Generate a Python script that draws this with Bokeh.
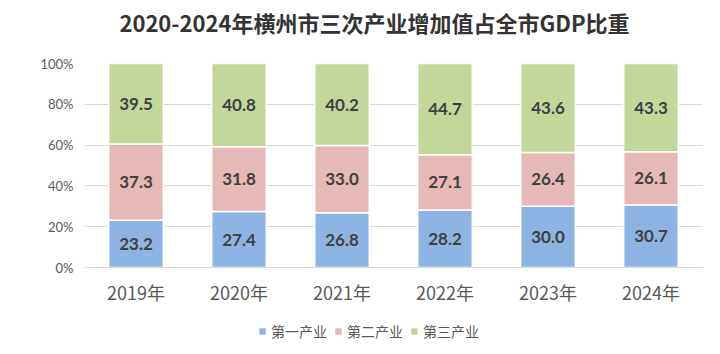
from bokeh.plotting import figure
from bokeh.layouts import column
from bokeh.models import FactorRange, Legend, LegendItem, NumeralTickFormatter, ColumnDataSource
from bokeh.core.properties import value
from bokeh.embed import file_html
from bokeh.resources import INLINE

years = ["2019年", "2020年", "2021年", "2022年", "2023年", "2024年"]
primary = [23.2, 27.4, 26.8, 28.2, 30.0, 30.7]
secondary = [37.3, 31.8, 33.0, 27.1, 26.4, 26.1]
tertiary = [39.5, 40.8, 40.2, 44.7, 43.6, 43.3]
series_names = ["第一产业", "第二产业", "第三产业"]
colors = ["#8DB4E2", "#E6B8B7", "#C4D79B"]
title_text = "2020-2024年横州市三次产业增加值占全市GDP比重"

totals = [a + b + c for a, b, c in zip(primary, secondary, tertiary)]
s1 = [a / t for a, t in zip(primary, totals)]
s2 = [b / t for b, t in zip(secondary, totals)]
s3 = [c / t for c, t in zip(tertiary, totals)]

src = ColumnDataSource(dict(
    x=years, s1=s1, s2=s2, s3=s3,
    l1=[f"{v:.1f}" for v in primary],
    l2=[f"{v:.1f}" for v in secondary],
    l3=[f"{v:.1f}" for v in tertiary],
    y1=[a / 2 for a in s1],
    y2=[a + b / 2 for a, b in zip(s1, s2)],
    y3=[a + b + c / 2 for a, b, c in zip(s1, s2, s3)],
))

def strip(h, x_range):
    f = figure(width=720, height=h, x_range=x_range, y_range=(h, 0),
               output_backend="svg", toolbar_location=None,
               min_border_left=84, min_border_right=18, min_border_top=0, min_border_bottom=0)
    f.axis.visible = False
    f.grid.visible = False
    f.outline_line_color = None
    return f

# title strip
t = strip(45, (84, 702))
t.text(x=[374], y=[21], text=[title_text], text_align="center", text_baseline="middle",
       text_font=value("Noto Sans CJK SC"), text_font_size="22px", text_font_style="bold",
       text_color="#333333")

p = figure(frame_width=618, frame_height=204, x_range=FactorRange(*years), y_range=(0, 1),
           output_backend="svg", toolbar_location=None,
           min_border_left=84, min_border_right=18, min_border_top=18, min_border_bottom=45)
p.outline_line_color = None
p.background_fill_color = "white"

r = p.vbar_stack(["s1", "s2", "s3"], x="x", width=0.53, source=src,
                 color=colors, line_color="white", line_width=1.5)

for lab, yy in (("l1", "y1"), ("l2", "y2"), ("l3", "y3")):
    p.text(x="x", y=yy, text=lab, source=src, text_align="center", text_baseline="middle",
           text_font=value("Lato"), text_font_size="17px", text_font_style="bold",
           text_color="#404040")

p.yaxis.ticker = [0, 0.2, 0.4, 0.6, 0.8, 1.0]
p.yaxis.formatter = NumeralTickFormatter(format="0%")
p.yaxis.axis_line_color = None
p.yaxis.major_tick_line_color = None
p.yaxis.minor_tick_line_color = None
p.yaxis.major_tick_out = 0
p.yaxis.major_label_text_font = "Lato"
p.yaxis.major_label_text_font_size = "13px"
p.yaxis.major_label_text_color = "#595959"
p.yaxis.major_label_standoff = 11

p.xaxis.axis_line_color = "#D9D9D9"
p.xaxis.major_tick_line_color = None
p.xaxis.minor_tick_line_color = None
p.xaxis.major_tick_out = 0
p.xaxis.major_label_text_font = "Noto Sans CJK SC"
p.xaxis.major_label_text_font_size = "18px"
p.xaxis.major_label_text_color = "#595959"
p.xaxis.major_label_standoff = 11

p.xgrid.grid_line_color = None
p.ygrid.grid_line_color = "#D9D9D9"

# legend strip: same stacked series with zero width, kept out of view; only the legend shows
lf = strip(42, FactorRange(*years))
lf.y_range.start = 1000
lf.y_range.end = 958
leg_r = lf.vbar_stack(["s1", "s2", "s3"], x="x", width=0, source=src,
                      color=colors, line_color=None)
legend = Legend(items=[LegendItem(label=n, renderers=[rr]) for n, rr in zip(series_names, leg_r)],
                orientation="horizontal", location=(174, 13),
                label_text_font="Noto Sans CJK SC", label_text_font_size="14px",
                label_text_color="#595959", glyph_width=8, glyph_height=8,
                spacing=7, label_standoff=5, border_line_color=None, margin=0,
                padding=0, background_fill_alpha=0)
lf.add_layout(legend, "center")

layout = column(t, p, lf, spacing=0)
open("out.html", "w").write(file_html(layout, INLINE))
